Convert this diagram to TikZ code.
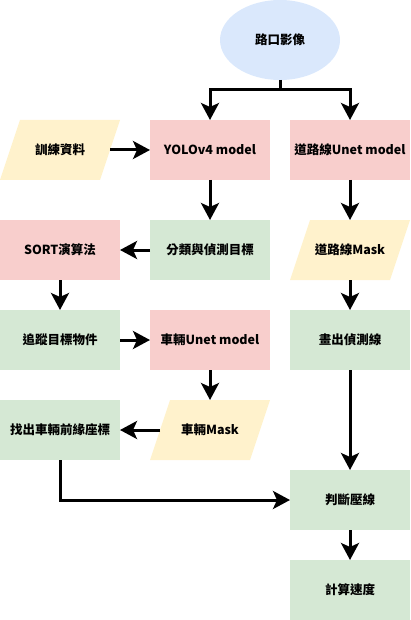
\documentclass[tikz,border=0pt]{standalone}
\usepackage{fontspec}
\setmainfont{Noto Sans CJK TC}
\usetikzlibrary{arrows.meta,shapes.geometric}

\definecolor{blueFill}{HTML}{DAE8FC}
\definecolor{redFill}{HTML}{F8CECC}
\definecolor{greenFill}{HTML}{D5E8D4}
\definecolor{yellowFill}{HTML}{FFF2CC}

\begin{document}
\begin{tikzpicture}[x=1pt,y=-1pt,
  font=\fontsize{12.5}{14}\selectfont\bfseries,
  box/.style={rectangle,minimum width=120pt,minimum height=60pt,inner sep=0pt,outer sep=0pt},
  model node/.style={box,fill=redFill},
  proc node/.style={box,fill=greenFill},
  data node/.style={box,path picture={
    \fill[yellowFill] ([xshift=20pt]path picture bounding box.north west)
      -- (path picture bounding box.north east)
      -- ([xshift=-20pt]path picture bounding box.south east)
      -- (path picture bounding box.south west) -- cycle;}},
  flow/.style={line width=3pt,-{Stealth[length=17pt,width=18pt,inset=4pt]}}]

  \useasboundingbox (0,0) rectangle (410,620);

  \node[ellipse,fill=blueFill,minimum width=120pt,minimum height=80pt,inner sep=0pt,outer sep=0pt] (img) at (280,40) {路口影像};
  \coordinate (split) at (280,90);

  \node[data node] (train) at (60,150) {訓練資料};
  \node[model node] (yolo) at (210,150) {YOLOv4 model};
  \node[model node] (roadunet) at (350,150) {道路線Unet model};

  \node[model node] (sort) at (60,250) {SORT演算法};
  \node[proc node] (classify) at (210,250) {分類與偵測目標};
  \node[data node] (roadmask) at (350,250) {道路線Mask};

  \node[proc node] (track) at (60,340) {追蹤目標物件};
  \node[model node] (carunet) at (210,340) {車輛Unet model};
  \node[proc node] (drawline) at (350,340) {畫出偵測線};

  \node[proc node] (front) at (60,430) {找出車輛前緣座標};
  \node[data node] (carmask) at (210,430) {車輛Mask};

  \node[proc node] (judge) at (350,500) {判斷壓線};
  \node[proc node] (speed) at (350,590) {計算速度};

  \draw[line width=3pt] (img.south) -- (split);
  \draw[flow] (split) -| (yolo.north);
  \draw[flow] (split) -| (roadunet.north);

  \path[flow] ([xshift=-10pt]train.east) edge (yolo.west);
  \path[flow] (yolo) edge (classify);
  \path[flow] (roadunet) edge (roadmask);
  \path[flow] (classify) edge (sort);
  \path[flow] (sort) edge (track);
  \path[flow] (track) edge (carunet);
  \path[flow] (carunet) edge (carmask);
  \path[flow] ([xshift=10pt]carmask.west) edge (front.east);
  \path[flow] (roadmask) edge (drawline);
  \path[flow] (drawline) edge (judge);
  \path[flow] (judge) edge (speed);
  \draw[flow] (front.south) |- (judge.west);
\end{tikzpicture}
\end{document}
